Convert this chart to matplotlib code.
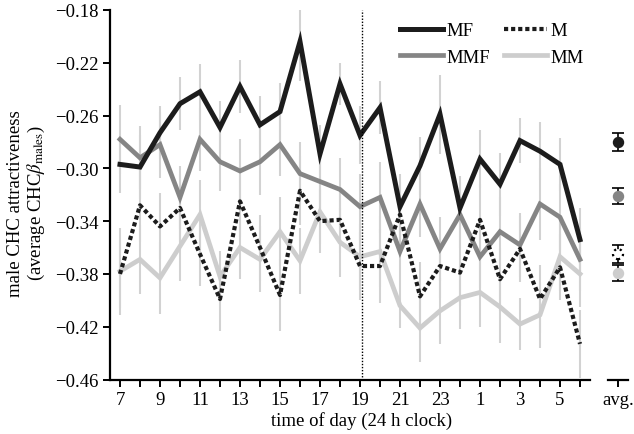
"""
Male CHC attractiveness across the day, by social treatment.
Four treatment lines with per-hour error bars, plus a small
side panel holding the overall averages.
"""

import matplotlib

matplotlib.use("Agg")

import matplotlib.pyplot as plt
from matplotlib.ticker import FixedLocator, FuncFormatter

# ---------------------------------------------------------------------------
# Data
# ---------------------------------------------------------------------------

HOURS = [7, 8, 9, 10, 11, 12, 13, 14, 15, 16, 17, 18, 19, 20, 21, 22, 23,
         0, 1, 2, 3, 4, 5, 6]
HOUR_LABELS = ["7", "", "9", "", "11", "", "13", "", "15", "", "17", "",
               "19", "", "21", "", "23", "", "1", "", "3", "", "5", ""]

MF = [-0.297, -0.299, -0.273, -0.251, -0.242, -0.269, -0.238, -0.267,
      -0.257, -0.204, -0.289, -0.236, -0.275, -0.254, -0.329, -0.298,
      -0.259, -0.330, -0.293, -0.312, -0.279, -0.287, -0.297, -0.354]
MMF = [-0.278, -0.292, -0.282, -0.322, -0.278, -0.295, -0.302, -0.295,
       -0.282, -0.304, -0.310, -0.316, -0.329, -0.322, -0.363, -0.327,
       -0.361, -0.335, -0.367, -0.348, -0.358, -0.327, -0.337, -0.369]
M = [-0.380, -0.328, -0.344, -0.330, -0.365, -0.399, -0.325, -0.360,
     -0.396, -0.317, -0.340, -0.339, -0.374, -0.374, -0.335, -0.397,
     -0.374, -0.379, -0.339, -0.384, -0.361, -0.399, -0.375, -0.433]
MM = [-0.378, -0.369, -0.383, -0.359, -0.335, -0.382, -0.360, -0.369,
      -0.348, -0.370, -0.333, -0.356, -0.367, -0.363, -0.404, -0.421,
      -0.408, -0.398, -0.394, -0.405, -0.418, -0.411, -0.367, -0.380]

MF_ERR = [0.022, 0.024, 0.020, 0.020, 0.021, 0.020, 0.020, 0.022,
          0.022, 0.030, 0.022, 0.016, 0.022, 0.020, 0.025, 0.022,
          0.030, 0.024, 0.022, 0.024, 0.017, 0.022, 0.020, 0.024]
MMF_ERR = [0.026, 0.024, 0.025, 0.024, 0.024, 0.022, 0.024, 0.025,
           0.024, 0.024, 0.026, 0.024, 0.025, 0.027, 0.024, 0.025,
           0.024, 0.025, 0.024, 0.026, 0.024, 0.027, 0.025, 0.024]
M_ERR = [0.026, 0.028, 0.025, 0.026, 0.024, 0.024, 0.027, 0.025,
         0.027, 0.026, 0.024, 0.025, 0.026, 0.028, 0.025, 0.026,
         0.024, 0.025, 0.027, 0.024, 0.025, 0.026, 0.025, 0.026]
MM_ERR = [0.033, 0.026, 0.027, 0.026, 0.026, 0.019, 0.024, 0.025,
          0.026, 0.025, 0.024, 0.026, 0.025, 0.027, 0.017, 0.026,
          0.025, 0.024, 0.026, 0.027, 0.020, 0.025, 0.026, 0.025]

AVG_LABELS = ["MF", "MMF", "M", "MM"]
AVG_VALUES = [-0.280, -0.321, -0.365, -0.379]
AVG_ERRORS = [0.007, 0.006, 0.007, 0.006]

Y_TICKS = [-0.46, -0.42, -0.38, -0.34, -0.30, -0.26, -0.22, -0.18]

# ---------------------------------------------------------------------------
# Styling
# ---------------------------------------------------------------------------

plt.rcParams["font.family"] = ["Liberation Serif", "DejaVu Serif"]
plt.rcParams["mathtext.fontset"] = "stix"
plt.rcParams["axes.unicode_minus"] = True

FS = 13.5
C_MF = "#1c1c1c"
C_MMF = "#858585"
C_M = "#1c1c1c"
C_MM = "#cdcdcd"
C_ERR = "#d2d2d2"
DOTS = (0, (1.0, 0.7))


def style_axis(ax):
    for side in ("top", "right"):
        ax.spines[side].set_visible(False)
    for side in ("left", "bottom"):
        ax.spines[side].set_linewidth(1.6)
    ax.tick_params(direction="out", length=5, width=1.4, labelsize=FS,
                   pad=3)


fig = plt.figure(figsize=(6.34, 4.35), dpi=100)
ax = fig.add_axes([110 / 634, 1 - 380.5 / 435, 480 / 634, 369.5 / 435])
ax_avg = fig.add_axes([608 / 634, 1 - 380.5 / 435, 20 / 634, 369.5 / 435])

x = list(range(len(HOURS)))

# error bars first, behind every line
for vals, errs in ((MF, MF_ERR), (MMF, MMF_ERR), (M, M_ERR), (MM, MM_ERR)):
    ax.errorbar(x, vals, yerr=errs, fmt="none", ecolor=C_ERR,
                elinewidth=1.5, capsize=0, zorder=1)

ax.plot(x, MM, color=C_MM, lw=3.4, solid_joinstyle="miter", zorder=2,
        label="MM")
ax.plot(x, MMF, color=C_MMF, lw=3.4, solid_joinstyle="miter", zorder=3,
        label="MMF")
ax.plot(x, M, color=C_M, lw=3.0, linestyle=DOTS, dash_capstyle="butt",
        zorder=4, label="M")
ax.plot(x, MF, color=C_MF, lw=3.6, solid_joinstyle="miter", zorder=5,
        label="MF")

# dotted marker at the day/night switch
ax.axvline(12.1, color="black", lw=1.0, linestyle=(0, (1, 1.2)), zorder=6)

ax.set_xlim(-0.5, 23.5)
ax.set_ylim(-0.46, -0.18)
ax.xaxis.set_major_locator(FixedLocator(x))
ax.set_xticklabels(HOUR_LABELS)
ax.yaxis.set_major_locator(FixedLocator(Y_TICKS))
ax.yaxis.set_major_formatter(
    FuncFormatter(lambda v, _: f"{v:.2f}".replace("-", "\u2212")))
style_axis(ax)

ax.set_ylabel("male CHC attractiveness\n(average CHC$\\beta_{\\mathrm{males}}$)",
              fontsize=FS, linespacing=1.1)
ax.yaxis.set_label_coords((47 - 110) / 480, 0.48)
ax.set_xlabel("time of day (24 h clock)", fontsize=FS)
ax.xaxis.set_label_coords((362 - 110) / 480, -(412 - 380.5) / 369.5)

# legend: two columns, MF / M on top, MMF / MM below
handles, labels = ax.get_legend_handles_labels()
order = [labels.index(name) for name in ("MF", "MMF", "M", "MM")]
fig.legend([handles[i] for i in order], [labels[i] for i in order],
           ncol=2, loc="upper left", bbox_to_anchor=(400 / 634, 1 - 23 / 435),
           frameon=False, fontsize=FS, handlelength=2.3, handletextpad=0.2,
           columnspacing=0.7, labelspacing=0.5, borderpad=0,
           borderaxespad=0)

# ---------------------------------------------------------------------------
# Average panel
# ---------------------------------------------------------------------------
avg_face = [C_MF, C_MMF, "white", C_MM]
avg_edge = [C_MF, C_MMF, "black", C_MM]
for val, err, fc, ec, name in zip(AVG_VALUES, AVG_ERRORS, avg_face,
                                  avg_edge, AVG_LABELS):
    ax_avg.errorbar([0], [val], yerr=[err], fmt="none", ecolor="black",
                    elinewidth=1.2, capsize=4, capthick=1.2, zorder=2)
    ax_avg.scatter([0], [val], s=52, facecolor=fc, edgecolor=ec,
                   linewidths=1.6 if name == "M" else 1.0,
                   linestyles=":" if name == "M" else "-", zorder=3)

ax_avg.set_xlim(-0.5, 0.5)
ax_avg.set_ylim(-0.46, -0.18)
ax_avg.set_xticks([0])
ax_avg.set_xticklabels(["avg."])
ax_avg.set_yticks([])
style_axis(ax_avg)
ax_avg.spines["left"].set_visible(False)

fig.savefig("out.png", dpi=100)
